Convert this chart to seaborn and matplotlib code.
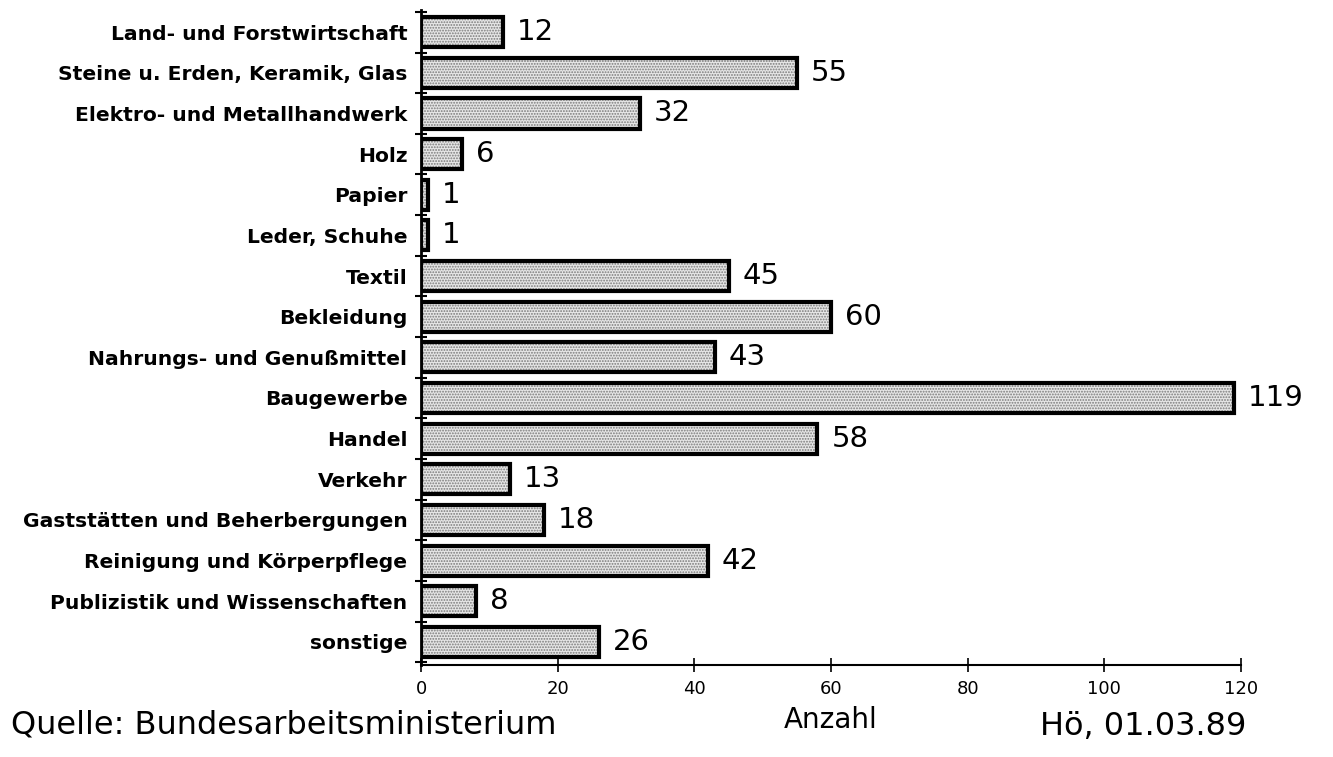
import pandas as pd
import matplotlib.pyplot as plt
import seaborn as sns
import numpy as np

branchen = [
    "Land- und Forstwirtschaft",
    "Steine u. Erden, Keramik, Glas",
    "Elektro- und Metallhandwerk",
    "Holz",
    "Papier",
    "Leder, Schuhe",
    "Textil",
    "Bekleidung",
    "Nahrungs- und Genußmittel",
    "Baugewerbe",
    "Handel",
    "Verkehr",
    "Gaststätten und Beherbergungen",
    "Reinigung und Körperpflege",
    "Publizistik und Wissenschaften",
    "sonstige",
]
anzahl = [12, 55, 32, 6, 1, 1, 45, 60, 43, 119, 58, 13, 18, 42, 8, 26]
x_ticks = [0, 20, 40, 60, 80, 100, 120]

df = pd.DataFrame({"branche": branchen, "anzahl": anzahl})

sns.set_style("white")
plt.rcParams['font.family'] = ['DejaVu Sans']
plt.rcParams['text.color'] = 'black'
plt.rcParams['xtick.color'] = 'black'
plt.rcParams['ytick.color'] = 'black'
plt.rcParams['hatch.color'] = '#7a7a7a'
plt.rcParams['hatch.linewidth'] = 0.9

fig = plt.figure(figsize=(13.33, 7.57), dpi=100)
ax = fig.add_axes([0.316, 0.1215, 0.615, 0.8655])

# stippled fill first, then the black frame on top
sns.barplot(data=df, x="anzahl", y="branche", orient="h", color="#e6e6e6",
            width=0.74, linewidth=0, ax=ax)
for p in ax.patches:
    p.set_hatch("......")
    p.set_edgecolor("#7a7a7a")
    p.set_linewidth(0)
sns.barplot(data=df, x="anzahl", y="branche", orient="h", fill=False,
            width=0.74, ax=ax, edgecolor="black", linewidth=3)

for c in ax.containers[1:]:
    ax.bar_label(c, labels=[str(v) for v in anzahl], padding=10,
                 fontsize=21, color="black")

ax.set_xlim(0, 120)
ax.set_ylim(15.57, -0.55)
ax.set_xticks(x_ticks)
ax.set_xticklabels([str(t) for t in x_ticks], fontsize=13)
ax.set_yticks(range(len(branchen)))
ax.set_yticklabels(branchen, fontsize=14.6, fontweight="semibold")
ax.set_yticks(np.arange(-0.5, len(branchen), 1.0), minor=True)
ax.tick_params(axis="y", which="major", left=True, length=0, pad=10)
ax.tick_params(axis="y", which="minor", left=True, length=8, width=1.5,
               direction="inout", color="black")
ax.tick_params(axis="x", bottom=True, length=10, width=1.2, direction="inout",
               color="black", pad=6)
ax.set_xlabel("")
ax.set_ylabel("")

for s in ["top", "right"]:
    ax.spines[s].set_visible(False)
ax.spines["left"].set_linewidth(2)
ax.spines["bottom"].set_linewidth(1.5)
ax.spines["left"].set_color("black")
ax.spines["bottom"].set_color("black")

fig.text(0.008, 0.022, "Quelle: Bundesarbeitsministerium", fontsize=23, ha="left", va="bottom")
fig.text(0.623, 0.03, "Anzahl", fontsize=20, ha="center", va="bottom")
fig.text(0.935, 0.02, "Hö, 01.03.89", fontsize=23, ha="right", va="bottom")

plt.savefig("out.png", dpi=100)
